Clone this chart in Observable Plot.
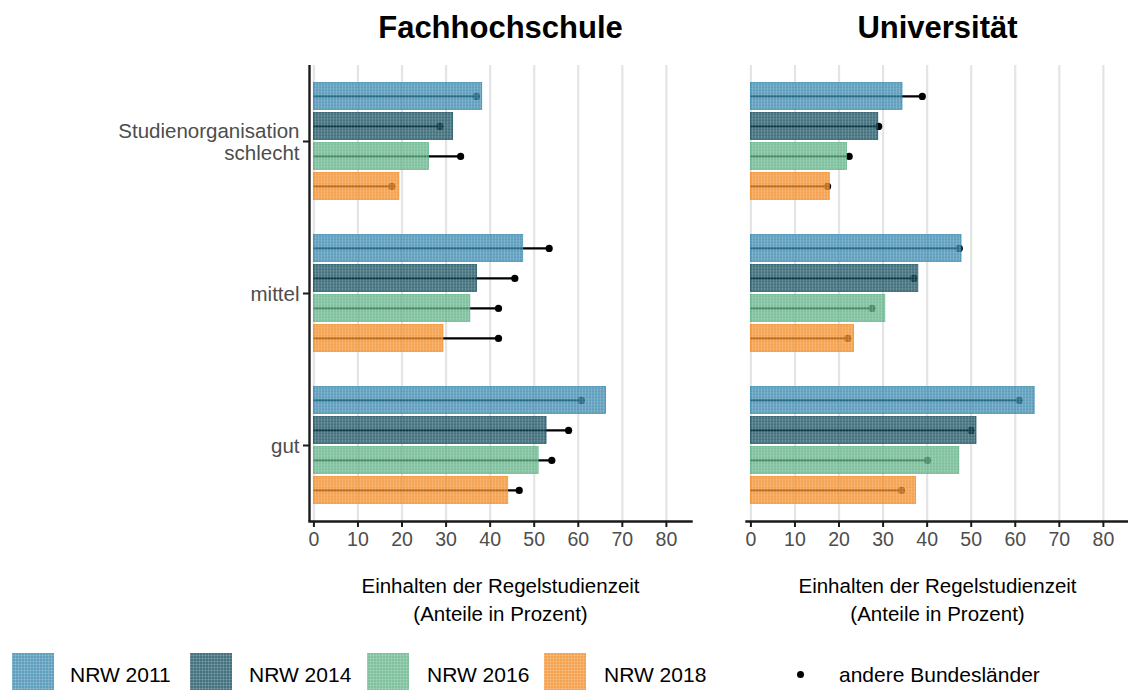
<!DOCTYPE html>
<html><head><meta charset="utf-8">
<script src="https://cdn.jsdelivr.net/npm/d3@7"></script>
<script src="https://cdn.jsdelivr.net/npm/@observablehq/plot@0.6"></script>
<style>
body{margin:0;background:#fff;font-family:"Liberation Sans",Arial,sans-serif;}
#wrap{position:relative;width:1128px;height:690px;overflow:hidden;background:#fff}
#chart{position:absolute;left:0;top:0}
.lg{position:absolute;top:653px;height:44px;display:flex;align-items:center;font-size:21px;color:#000}
.sw{position:absolute;top:653px;width:42px;height:42px}
.tex{position:absolute;top:0;left:0;right:0;bottom:0;
 background-image:repeating-linear-gradient(90deg,rgba(255,255,255,0.16) 0 1px,transparent 1px 3px),repeating-linear-gradient(0deg,rgba(255,255,255,0.16) 0 1px,transparent 1px 3px)}
</style></head><body><div id="wrap"><div id="chart"></div><div id="legend"></div></div>
<script>
const types = ["Fachhochschule", "Universität"];
const categories = ["Studienorganisation schlecht", "mittel", "gut"];
const years = ["NRW 2011", "NRW 2014", "NRW 2016", "NRW 2018"];
const colors = ["#3284ac", "#0f4a5b", "#5baf83", "#f2881f"];
const xTicks = [0, 10, 20, 30, 40, 50, 60, 70, 80];
// rows: categories, columns: years
const nrwFH    = [[38.2, 31.6, 26.1, 19.4], [47.5, 37.0, 35.5, 29.4], [66.3, 52.8, 51.0, 44.1]];
const otherFH  = [[36.9, 28.6, 33.3, 17.7], [53.4, 45.6, 41.9, 41.9], [60.7, 57.8, 54.0, 46.6]];
const nrwUni   = [[34.4, 28.9, 21.8, 17.9], [47.8, 38.0, 30.5, 23.4], [64.4, 51.2, 47.3, 37.5]];
const otherUni = [[38.9, 29.0, 22.3, 17.4], [47.3, 37.0, 27.5, 22.0], [60.9, 50.0, 40.1, 34.2]];
const xTitle = "Einhalten der Regelstudienzeit\n(Anteile in Prozent)";
const legendOther = "andere Bundesländer";

const rows = [];
[[types[0], nrwFH, otherFH], [types[1], nrwUni, otherUni]].forEach(([type, nrw, other]) => {
  categories.forEach((cat, i) => years.forEach((year, j) => {
    rows.push({type, cat, year, nrw: nrw[i][j], other: other[i][j]});
  }));
});

const chart = Plot.plot({
  width: 1128, height: 640,
  marginTop: 63.6, marginBottom: 118, marginLeft: 309, marginRight: 0,
  style: {fontFamily: "'Liberation Sans', Arial, sans-serif", background: "white", overflow: "visible"},
  fx: {domain: types, paddingInner: 0.126, paddingOuter: 0, axis: null},
  fy: {domain: categories, padding: 0, axis: null},
  x: {domain: [-1, 85.7], axis: null},
  y: {domain: years, paddingInner: 0.1, paddingOuter: 0.55, axis: null},
  color: {domain: years, range: colors},
  marks: [
    Plot.gridX(xTicks, {stroke: "#e4e4e4", strokeWidth: 2.2, strokeOpacity: 1}),
    Plot.ruleY(rows, {fx: "type", fy: "cat", y: "year", x1: 0, x2: "other", stroke: "black", strokeWidth: 2.2}),
    Plot.dot(rows, {fx: "type", fy: "cat", y: "year", x: "other", r: 3.6, fill: "black"}),
    Plot.barX(rows, {fx: "type", fy: "cat", y: "year", x1: 0, x2: "nrw", fill: "year", fillOpacity: 0.78, stroke: "year", strokeOpacity: 0.9, strokeWidth: 0.8}),
    Plot.barX(rows, {fx: "type", fy: "cat", y: "year", x1: 0, x2: "nrw", fill: "url(#tex)"}),
    Plot.ruleX(categories.map(c => ({type: types[0], cat: c})), {fx: "type", fy: "cat", x: -1, stroke: "#1a1a1a", strokeWidth: 2.4}),
    Plot.frame({anchor: "bottom", fy: ["gut"], stroke: "#1a1a1a", strokeWidth: 2.4}),
    Plot.axisFy({anchor: "left", tickSize: 6, tickPadding: 4, fontSize: 20.5, fill: "#4d4d4d", stroke: "#1a1a1a", strokeWidth: 2, label: null,
      lineHeight: 1.07, tickFormat: d => d.replace(" schlecht", "\nschlecht")}),
    Plot.axisX(xTicks, {anchor: "bottom", tickSize: 6, tickPadding: 5, fontSize: 19.5, fill: "#4d4d4d", stroke: "#1a1a1a", strokeWidth: 2, label: null}),
    Plot.axisFx({anchor: "top", tickSize: 0, tickPadding: 28, fontSize: 31, fontWeight: "bold", fill: "black", label: null}),
    Plot.text(types, {fx: d => d, fy: () => "gut", text: () => xTitle, frameAnchor: "bottom", dy: 77, lineAnchor: "middle", lineHeight: 1.36, fontSize: 20.5, fill: "black"})
  ]
});
// fine woven texture for the bars
const ns = "http://www.w3.org/2000/svg";
const defs = document.createElementNS(ns, "defs");
defs.innerHTML = `<pattern id="tex" width="3" height="3" patternUnits="userSpaceOnUse">
  <rect x="0" y="0" width="1" height="3" fill="white" fill-opacity="0.14"/>
  <rect x="0" y="0" width="3" height="1" fill="white" fill-opacity="0.14"/>
</pattern>`;
chart.insertBefore(defs, chart.firstChild);
document.getElementById("chart").appendChild(chart);

// legend
const lg = document.getElementById("legend");
const swX = [12, 190, 367, 544], txX = [70, 249, 427, 604];
years.forEach((y, i) => {
  const s = document.createElement("div"); s.className = "sw";
  s.style.left = swX[i] + "px";
  s.innerHTML = `<div style="position:absolute;inset:0;background:${colors[i]};opacity:0.78"></div><div class="tex"></div>`;
  lg.appendChild(s);
  const t = document.createElement("div"); t.className = "lg"; t.style.left = txX[i] + "px"; t.textContent = y;
  lg.appendChild(t);
});
const d = document.createElement("div");
d.style.cssText = "position:absolute;left:797px;top:671px;width:7.2px;height:7.2px;border-radius:50%;background:#000";
lg.appendChild(d);
const t2 = document.createElement("div"); t2.className = "lg"; t2.style.left = "839px"; t2.textContent = legendOther;
lg.appendChild(t2);
</script></body></html>
